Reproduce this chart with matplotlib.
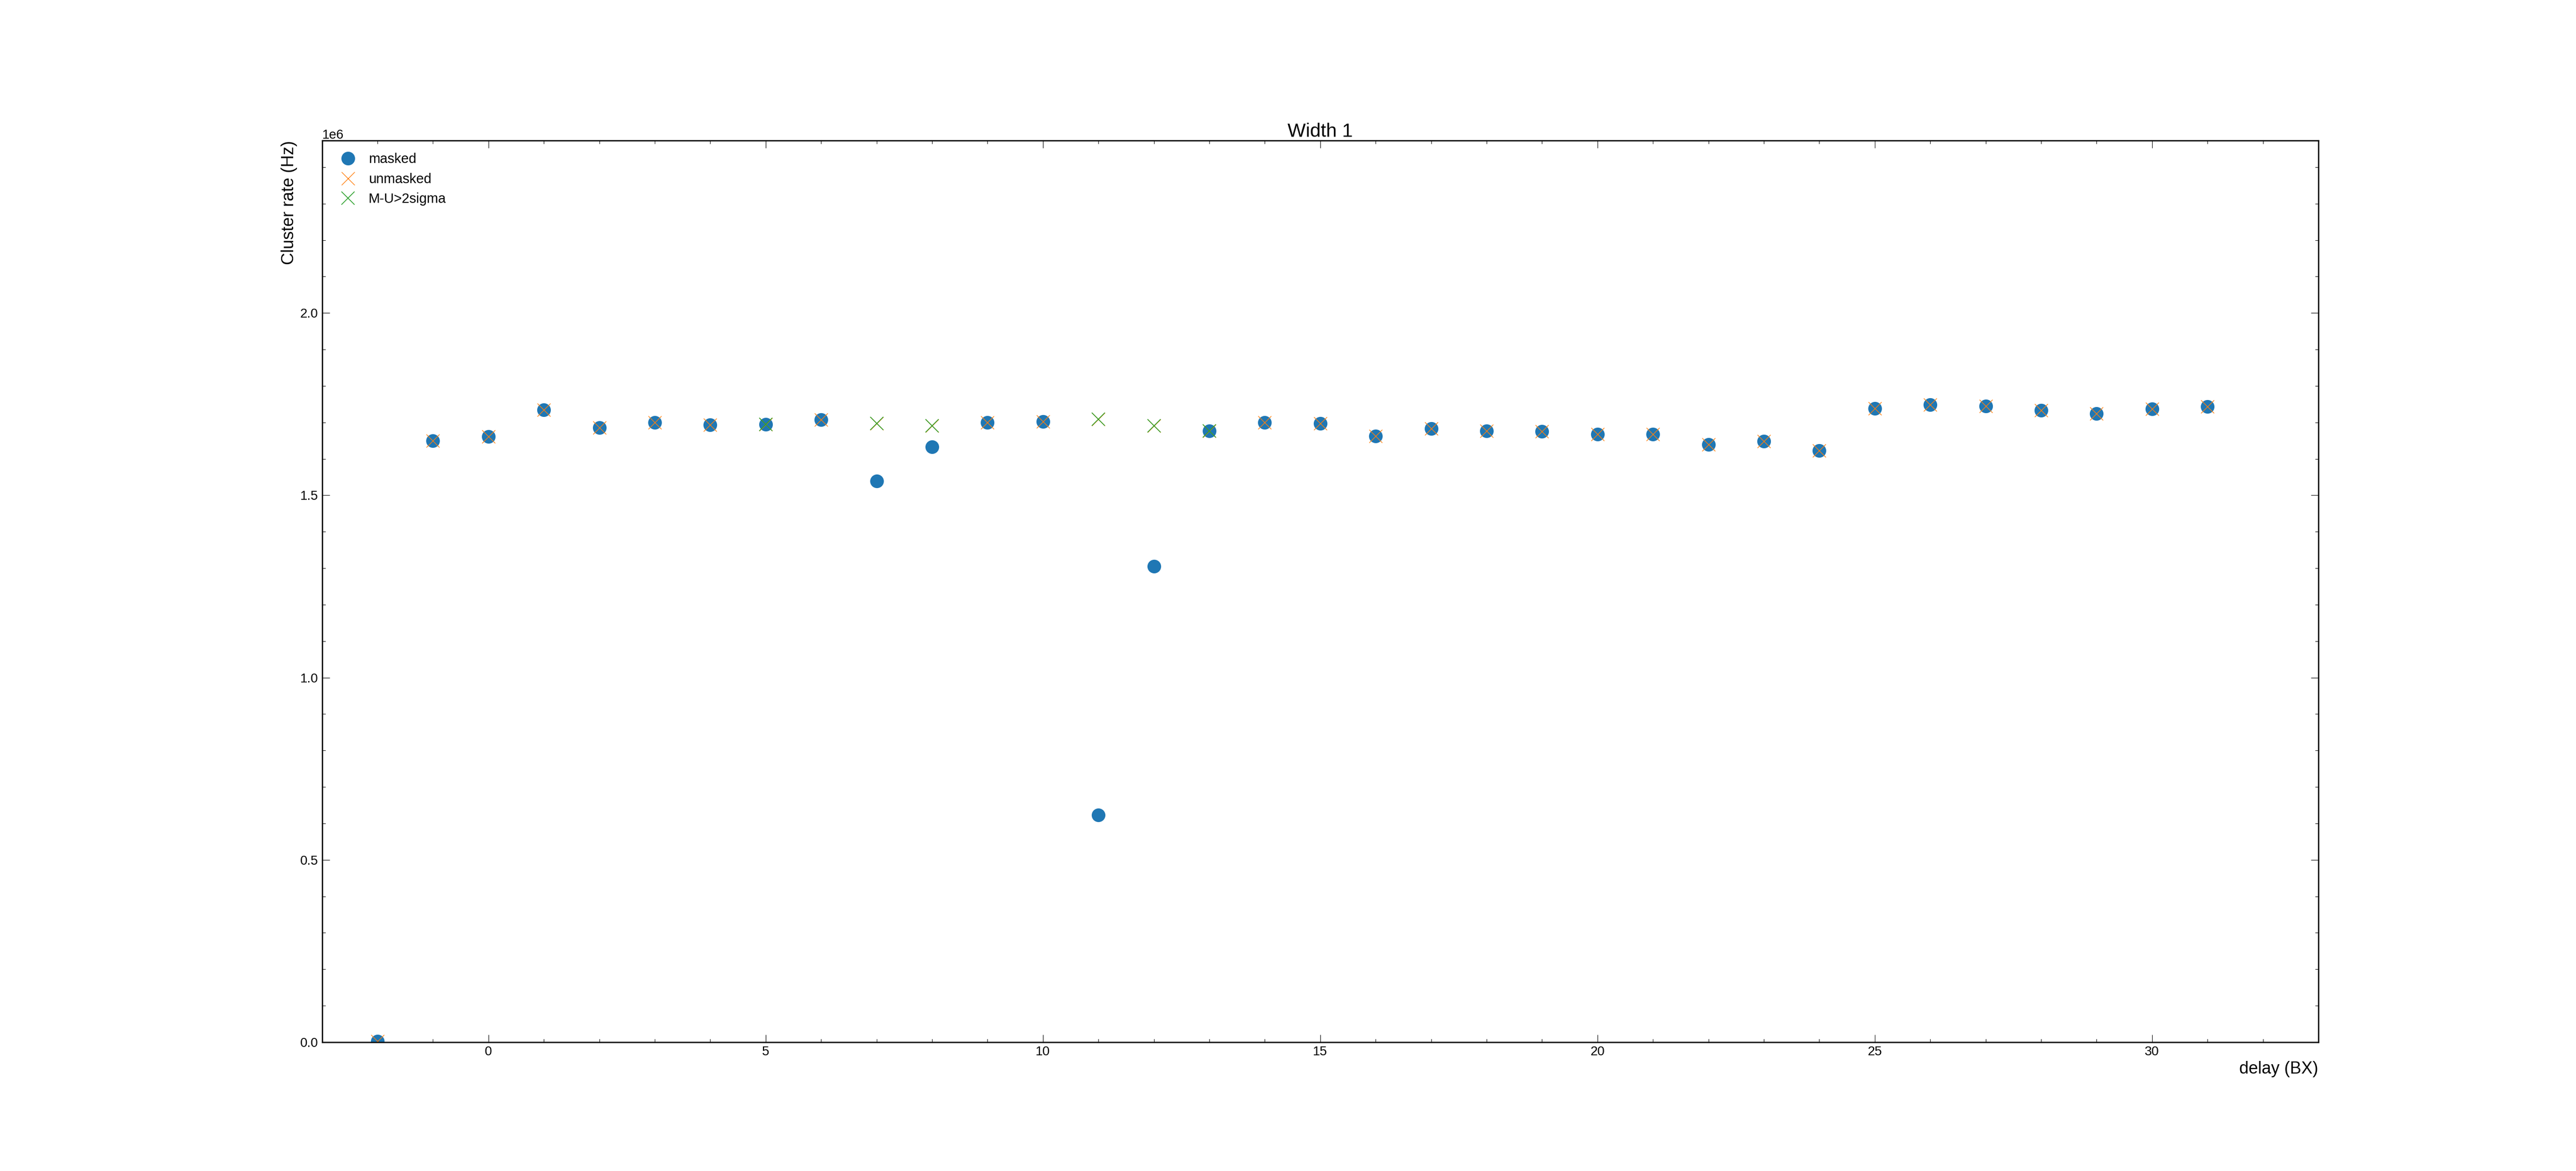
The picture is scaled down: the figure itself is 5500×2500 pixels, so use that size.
import matplotlib
matplotlib.use("Agg")
import matplotlib.pyplot as plt
from matplotlib.ticker import MultipleLocator

plt.rcParams['font.family'] = ['Liberation Sans', 'DejaVu Sans']

# ---- data ----
delay = [-2, -1, 0, 1, 2, 3, 4, 5, 6, 7, 8, 9, 10, 11, 12, 13, 14, 15, 16,
         17, 18, 19, 20, 21, 22, 23, 24, 25, 26, 27, 28, 29, 30, 31]

masked = [0.003e6, 1.649e6, 1.661e6, 1.734e6, 1.686e6, 1.700e6, 1.693e6,
          1.694e6, 1.707e6, 1.539e6, 1.633e6, 1.699e6, 1.702e6, 0.6225e6,
          1.305e6, 1.677e6, 1.700e6, 1.697e6, 1.662e6, 1.683e6, 1.676e6,
          1.675e6, 1.668e6, 1.668e6, 1.639e6, 1.648e6, 1.623e6, 1.738e6,
          1.748e6, 1.745e6, 1.733e6, 1.724e6, 1.737e6, 1.743e6]

unmasked = [0.003e6, 1.649e6, 1.661e6, 1.734e6, 1.686e6, 1.700e6, 1.693e6,
            1.694e6, 1.707e6, 1.697e6, 1.691e6, 1.699e6, 1.702e6, 1.708e6,
            1.690e6, 1.677e6, 1.700e6, 1.697e6, 1.662e6, 1.683e6, 1.676e6,
            1.675e6, 1.668e6, 1.668e6, 1.639e6, 1.648e6, 1.623e6, 1.738e6,
            1.748e6, 1.745e6, 1.733e6, 1.724e6, 1.737e6, 1.743e6]

sig_delay = [5, 7, 8, 11, 12, 13]
sig_rate = [1.694e6, 1.697e6, 1.691e6, 1.708e6, 1.690e6, 1.677e6]

labels = ["masked", "unmasked", "M-U>2sigma"]
title = "Width 1"
xlabel = "delay (BX)"
ylabel = "Cluster rate (Hz)"

# ---- figure ----
fig = plt.figure(figsize=(55, 25), dpi=100)
ax = fig.add_subplot(111)
fig.subplots_adjust(left=0.125, right=0.9, top=0.88, bottom=0.11)

ax.plot(delay, masked, 'o', color='#1f77b4', markersize=20, label=labels[0])
ax.plot(delay, unmasked, 'x', color='#ff7f0e', markersize=20,
        markeredgewidth=1.0, label=labels[1])
ax.plot(sig_delay, sig_rate, 'x', color='#2ca02c', markersize=20,
        markeredgewidth=1.2, label=labels[2])

ax.set_xlim(-3, 33)
ax.set_ylim(0, 2.473e6)

ax.xaxis.set_major_locator(MultipleLocator(5))
ax.xaxis.set_minor_locator(MultipleLocator(1))
ax.yaxis.set_major_locator(MultipleLocator(0.5e6))
ax.yaxis.set_minor_locator(MultipleLocator(0.1e6))

ax.tick_params(which='both', direction='in', top=True, right=True,
               labelsize=20, pad=6)
ax.tick_params(which='major', length=11.5, width=0.8)
ax.tick_params(which='minor', length=5, width=0.8)
ax.yaxis.get_offset_text().set_fontsize(20)

for sp in ax.spines.values():
    sp.set_linewidth(2)

ax.set_title(title, fontsize=29.6, pad=6)
ax.set_xlabel(xlabel, fontsize=26, loc='right')
ax.set_ylabel(ylabel, fontsize=26, loc='top')

ax.legend(loc='upper left', frameon=False, fontsize=21, numpoints=1,
          handletextpad=0.5)

fig.savefig("out.png", dpi=100)
